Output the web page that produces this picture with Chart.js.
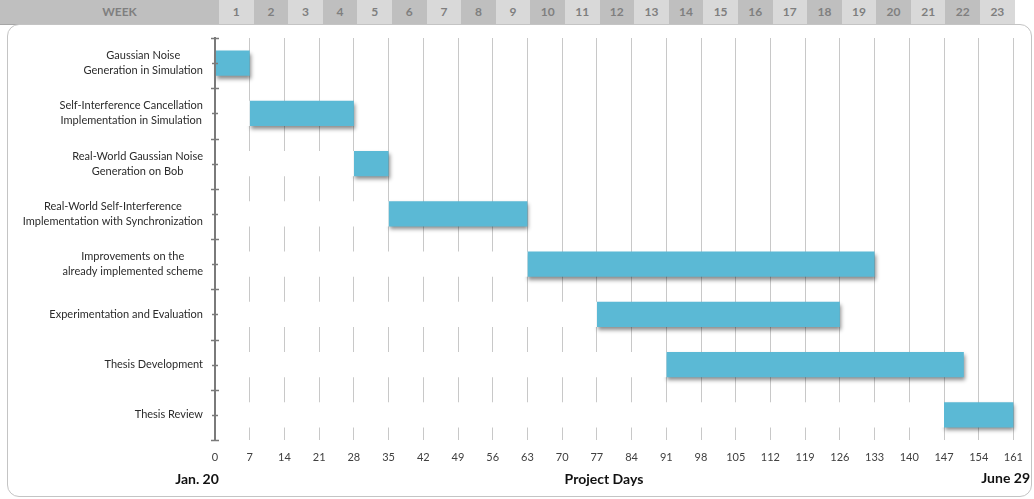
<!DOCTYPE html>
<html>
<head>
<meta charset="utf-8">
<script src="https://cdn.jsdelivr.net/npm/chart.js@4.4.1/dist/chart.umd.min.js"></script>
<style>
  body { margin: 0; width: 1034px; height: 499px; overflow: hidden; background: #fff; position: relative; font-family: Lato, 'Open Sans', sans-serif; }
  #weekBar { position: absolute; left: 0; top: 0; height: 24px; width: 1015px; border-bottom: 1px solid #a6a6a6; display: flex; }
  #weekBar div { height: 24px; line-height: 24px; text-align: center; font-weight: bold; font-size: 12px; color: #7f7f7f; flex: none; }
  #weekBar .title { width: 199px; padding-left: 20px; background: #bfbfbf; }
  #weekBar .light { width: 34.6px; background: #d9d9d9; }
  #weekBar .dark { width: 34.6px; background: #bfbfbf; }
  #frame { position: absolute; left: 7px; top: 24px; width: 1023px; height: 471px; border: 1px solid #c4c4c4; border-radius: 12px; }
  #gantt { position: absolute; left: 0; top: 0; }
</style>
</head>
<body>
<div id="weekBar"></div>
<div id="frame"></div>
<canvas id="gantt" width="1034" height="499"></canvas>
<script>
// Tasks, top to bottom
const taskLabels = [
  ['Gaussian Noise', 'Generation in Simulation'],
  ['Self-Interference Cancellation', 'Implementation in Simulation'],
  ['Real-World Gaussian Noise', 'Generation on Bob'],
  ['Real-World Self-Interference', 'Implementation with Synchronization'],
  ['Improvements on the', 'already implemented scheme'],
  ['Experimentation and Evaluation'],
  ['Thesis Development'],
  ['Thesis Review']
];
const startDays = [0, 7, 28, 35, 63, 77, 91, 147];
const durationDays = [7, 21, 7, 28, 70, 49, 60, 14];
const weekLabels = ['1', '2', '3', '4', '5', '6', '7', '8', '9', '10', '11', '12',
  '13', '14', '15', '16', '17', '18', '19', '20', '21', '22', '23'];
const dayMax = 161;
const dayStep = 7;

// Week header row
const weekBar = document.getElementById('weekBar');
const weekTitle = document.createElement('div');
weekTitle.className = 'title';
weekTitle.textContent = 'WEEK';
weekBar.appendChild(weekTitle);
weekLabels.forEach((w, i) => {
  const cell = document.createElement('div');
  cell.className = i % 2 === 0 ? 'light' : 'dark';
  cell.textContent = w;
  weekBar.appendChild(cell);
});

// Axis ticks, task labels and footer texts
const ganttDecor = {
  id: 'ganttDecor',
  afterDraw(chart) {
    const ctx = chart.ctx;
    const y = chart.scales.y;
    const area = chart.chartArea;
    const band = (y.bottom - y.top) / taskLabels.length;
    const axisX = area.left;

    ctx.save();
    ctx.strokeStyle = '#7a7a7a';
    ctx.lineWidth = 1.5;
    for (let i = 0; i <= taskLabels.length; i++) {
      const by = Math.round(y.top + i * band) + 0.5;
      ctx.beginPath();
      ctx.moveTo(axisX - 4, by);
      ctx.lineTo(axisX + 4, by);
      ctx.stroke();
    }
    taskLabels.forEach((_, i) => {
      const cy = Math.round(y.getPixelForValue(i)) + 0.5;
      ctx.beginPath();
      ctx.moveTo(axisX - 3, cy);
      ctx.lineTo(axisX + 3, cy);
      ctx.stroke();
    });

    // task labels: centred lines, block right-aligned to the axis
    ctx.font = '11px Lato';
    ctx.fillStyle = '#2b2b2b';
    ctx.textAlign = 'center';
    ctx.textBaseline = 'middle';
    const lineH = 15;
    taskLabels.forEach((lines, i) => {
      const cy = y.getPixelForValue(i);
      const maxW = Math.max(...lines.map(l => ctx.measureText(l).width));
      const cx = axisX - 12 - maxW / 2;
      lines.forEach((l, k) => {
        ctx.fillText(l, cx, cy + (k - (lines.length - 1) / 2) * lineH);
      });
    });

    ctx.font = 'bold 14px Lato';
    ctx.fillStyle = '#111';
    ctx.fillText('Jan. 20', axisX - 18, 479);
    ctx.fillText('Project Days', 604, 479);
    ctx.textAlign = 'right';
    ctx.fillText('June 29', 1030, 478);
    ctx.restore();
  }
};

// Drop shadow under the task bars
const barShadow = {
  id: 'barShadow',
  beforeDatasetDraw(chart, args) {
    if (args.index !== 1) return;
    const ctx = chart.ctx;
    ctx.save();
    ctx.shadowColor = 'rgba(0, 0, 0, 0.45)';
    ctx.shadowBlur = 4;
    ctx.shadowOffsetX = 1;
    ctx.shadowOffsetY = 3;
  },
  afterDatasetDraw(chart, args) {
    if (args.index !== 1) return;
    chart.ctx.restore();
  }
};

new Chart(document.getElementById('gantt'), {
  type: 'bar',
  data: {
    labels: taskLabels.map(l => l.join(' ')),
    datasets: [
      {
        label: 'Start',
        data: startDays,
        backgroundColor: '#ffffff',
        borderWidth: 0
      },
      {
        label: 'Duration',
        data: durationDays,
        backgroundColor: '#5bb9d5',
        borderWidth: 0,
        clip: false
      }
    ]
  },
  options: {
    indexAxis: 'y',
    responsive: false,
    animation: false,
    devicePixelRatio: 1,
    barPercentage: 1,
    categoryPercentage: 0.5,
    layout: { padding: { top: 38, right: 20, bottom: 0, left: 0 } },
    plugins: {
      legend: { display: false },
      tooltip: { enabled: false }
    },
    scales: {
      x: {
        type: 'linear',
        stacked: true,
        min: 0,
        max: dayMax,
        afterFit: scale => { scale.height = 59; },
        ticks: {
          stepSize: dayStep,
          padding: 11,
          color: '#404040',
          font: { family: 'Lato', size: 11 }
        },
        grid: { color: '#c8c8c8', lineWidth: 1, drawTicks: false },
        border: { display: false }
      },
      y: {
        stacked: true,
        afterFit: scale => { scale.width = 215; },
        ticks: { display: false },
        grid: { display: false, drawTicks: false },
        border: { display: true, color: '#7a7a7a', width: 2, z: 1 }
      }
    }
  },
  plugins: [barShadow, ganttDecor]
});
</script>
</body>
</html>
